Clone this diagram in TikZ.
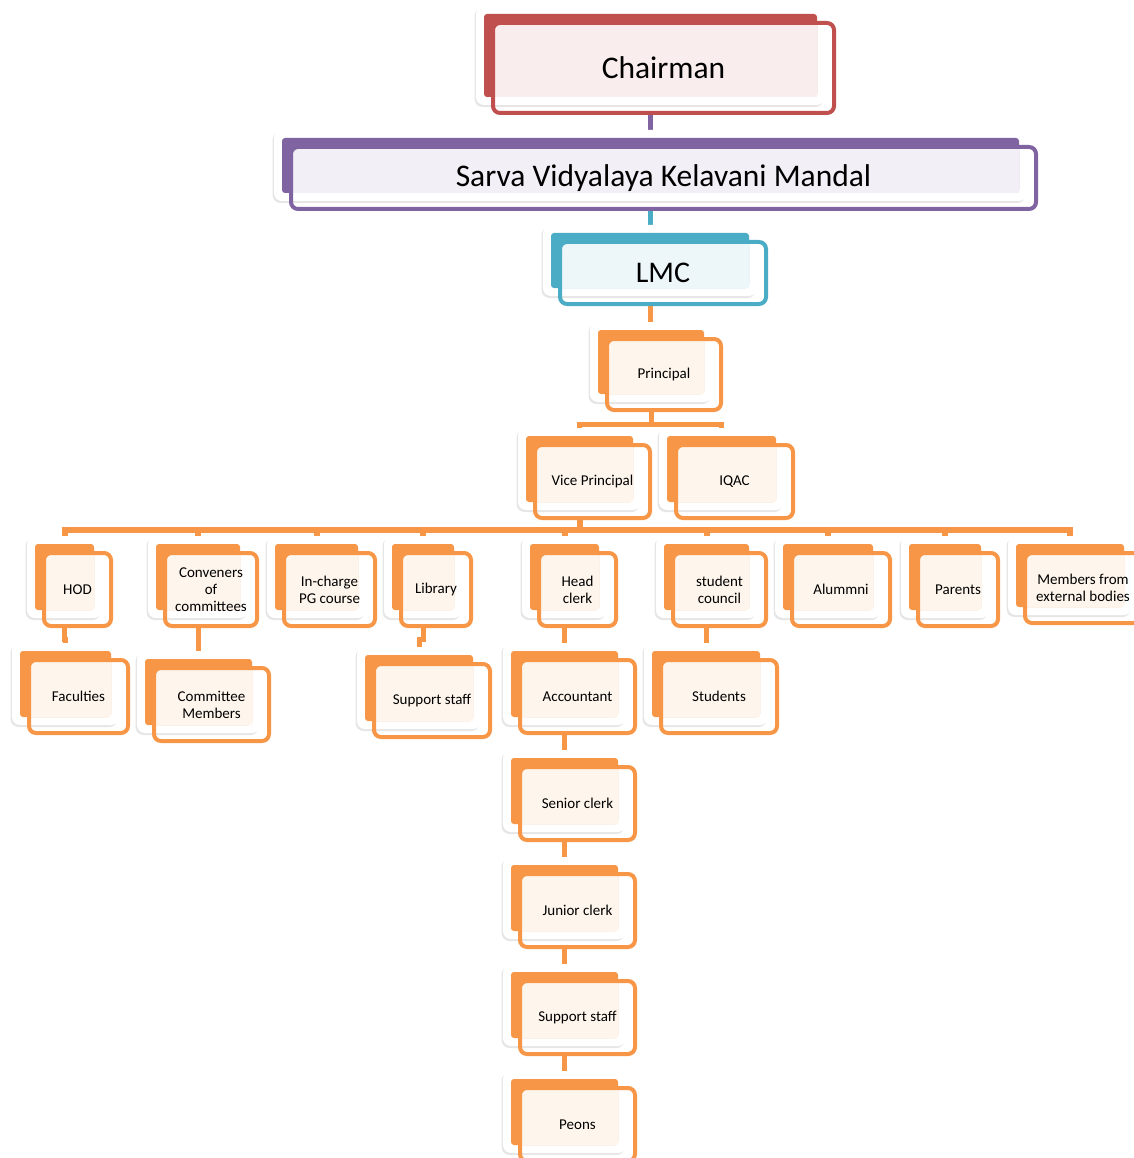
\documentclass[tikz,border=0pt]{standalone}
\usepackage{fontspec}
\setmainfont{Carlito}
\usetikzlibrary{calc,shadows}
\definecolor{orgred}{HTML}{C0504D}
\definecolor{orgpurple}{HTML}{8064A2}
\definecolor{orgblue}{HTML}{4BACC6}
\definecolor{orgorange}{HTML}{F79646}
\pgfdeclarelayer{links}
\pgfdeclarelayer{backs}
\pgfsetlayers{links,backs,main}

\begin{document}
\begin{tikzpicture}[x=1pt, y=-1pt,
  chartbox/.style={draw=#1, line width=4pt, rounded corners=7pt, inner sep=0pt, outer sep=0pt,
    align=center, font=\fontsize{15pt}{17pt}\selectfont},
  bigbox/.style={chartbox=#1, font=\fontsize{31.5pt}{36pt}\selectfont},
  orglink/.style={draw=#1, line width=5pt},
  orglink/.default=orgorange]
\useasboundingbox (0,0) rectangle (1133,1158);

% top of the chart
\node[bigbox=orgred, minimum width=341pt, minimum height=90pt] (chair) at (663.5,68) {Chairman};
\node[bigbox=orgpurple, minimum width=745pt, minimum height=62pt] (svkm) at (663.5,178) {Sarva Vidyalaya Kelavani Mandal};
\node[bigbox=orgblue, font=\fontsize{30pt}{36pt}\selectfont, minimum width=206pt, minimum height=62pt] (lmc) at (663,273) {LMC};
\node[chartbox=orgorange, minimum width=114pt, minimum height=71pt] (principal) at (664,374.5) {Principal};
\node[chartbox=orgorange, minimum width=115pt, minimum height=73pt] (vp) at (592.5,481.5) {Vice Principal};
\node[chartbox=orgorange, minimum width=117pt, minimum height=73pt] (iqac) at (734.5,481.5) {IQAC};

% third row
\node[chartbox=orgorange, minimum width=67pt, minimum height=73pt] (hod) at (77.5,589.5) {HOD};
\node[chartbox=orgorange, minimum width=92pt, minimum height=73pt] (conv) at (211,589.5) {Conveners\\of\\committees};
\node[chartbox=orgorange, minimum width=91pt, minimum height=73pt] (pgc) at (329.5,589.5) {In-charge\\PG course};
\node[chartbox=orgorange, minimum width=70pt, minimum height=73pt] (lib) at (436,589.5) {Library};
\node[chartbox=orgorange, minimum width=77pt, minimum height=73pt] (hclerk) at (577.5,589.5) {Head\\clerk};
\node[chartbox=orgorange, minimum width=93pt, minimum height=73pt] (council) at (719.5,589.5) {student\\council};
\node[chartbox=orgorange, minimum width=98pt, minimum height=73pt] (alum) at (841,589.5) {Alummni};
\node[chartbox=orgorange, minimum width=80pt, minimum height=73pt] (parents) at (958,589.5) {Parents};
\node[chartbox=orgorange, minimum width=116pt, minimum height=70pt] (members) at (1083,588) {Members from\\external bodies};

% fourth row and the office column
\node[chartbox=orgorange, minimum width=99pt, minimum height=73pt] (fac) at (78.5,696.5) {Faculties};
\node[chartbox=orgorange, minimum width=115pt, minimum height=73pt] (commem) at (211.5,704.5) {Committee\\Members};
\node[chartbox=orgorange, minimum width=116pt, minimum height=73pt] (libstaff) at (432,700.5) {Support staff};
\node[chartbox=orgorange, minimum width=115pt, minimum height=73pt] (acct) at (577.5,696.5) {Accountant};
\node[chartbox=orgorange, minimum width=116pt, minimum height=73pt] (students) at (719,696.5) {Students};
\node[chartbox=orgorange, minimum width=115pt, minimum height=73pt] (senior) at (577.5,803.5) {Senior clerk};
\node[chartbox=orgorange, minimum width=115pt, minimum height=73pt] (junior) at (577.5,910.5) {Junior clerk};
\node[chartbox=orgorange, minimum width=115pt, minimum height=73pt] (staff) at (577.5,1017.5) {Support staff};
\node[chartbox=orgorange, minimum width=115pt, minimum height=73pt] (peons) at (577.5,1124.5) {Peons};

% card behind every box
\begin{pgfonlayer}{backs}
\foreach \n/\c in {chair/orgred, svkm/orgpurple, lmc/orgblue, principal/orgorange, vp/orgorange,
    iqac/orgorange, hod/orgorange, conv/orgorange, pgc/orgorange, lib/orgorange, hclerk/orgorange,
    council/orgorange, alum/orgorange, parents/orgorange, members/orgorange, fac/orgorange,
    commem/orgorange, libstaff/orgorange, acct/orgorange, students/orgorange, senior/orgorange,
    junior/orgorange, staff/orgorange, peons/orgorange}{
  \fill[white, rounded corners=8pt, drop shadow={shadow xshift=-1.5pt, shadow yshift=-2pt, opacity=.2}]
    ($(\n.north west)+(-17,-17)$) rectangle ($(\n.south east)+(-9,-8)$);
  \fill[\c, rounded corners=3pt] ($(\n.north west)+(-9,-9)$) rectangle ($(\n.south east)+(-17,-16)$);
  \fill[\c!10] ($(\n.north west)+(2,2)$) rectangle ($(\n.south east)+(-17,-16)$);
}
\end{pgfonlayer}

% connectors
\begin{pgfonlayer}{links}
\draw[orglink=orgpurple] ([xshift=-13pt]chair.south) -- ([xshift=-13pt]chair.south |- svkm.north);
\draw[orglink=orgblue] ([xshift=-13pt]svkm.south) -- ([xshift=-13pt]svkm.south |- lmc.north);
\draw[orglink] ([xshift=-13pt]lmc.south) -- ([xshift=-13pt]lmc.south |- principal.north);
\draw[orglink] ([xshift=-13pt]principal.south) -- ++(0,14) -| ([xshift=-13pt]vp.north);
\draw[orglink] ([xshift=-13pt]principal.south) -- ++(0,14) -| ([xshift=-13pt]iqac.north);
\foreach \n in {hod,conv,pgc,lib,hclerk,council,alum,parents,members}
  \draw[orglink, line width=6pt] ([xshift=-13pt]vp.south) -- ++(0,12) -| ([xshift=-13pt]\n.north);
\foreach \a/\b in {hod/fac, conv/commem, lib/libstaff, hclerk/acct, council/students,
    acct/senior, senior/junior, junior/staff, staff/peons}
  \draw[orglink] ([xshift=-13pt]\a.south) -- ++(0,13) -| ([xshift=-13pt]\b.north);
\end{pgfonlayer}
\end{tikzpicture}
\end{document}
